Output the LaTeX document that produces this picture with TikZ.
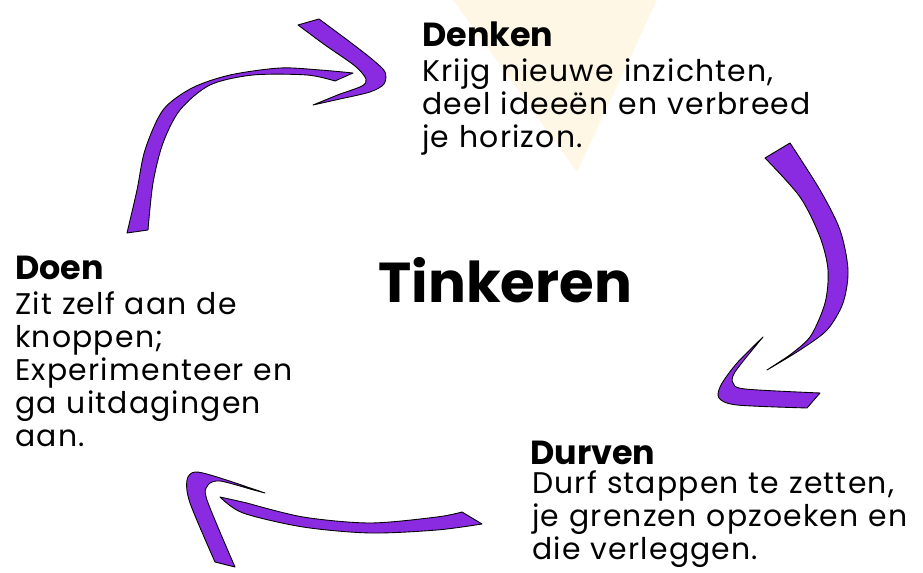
\documentclass[tikz,border=0pt]{standalone}
\usepackage{fontspec}
\setmainfont{Poppins}
\definecolor{brushpurple}{RGB}{138,43,226}
\definecolor{paleyellow}{RGB}{254,247,230}

\begin{document}
\begin{tikzpicture}[x=0.02cm, y=-0.02cm,
		brush/.style={fill=brushpurple, draw=black, line width=0.5pt, line join=round},
		head/.style={font=\fontsize{19}{24}\selectfont\bfseries, inner sep=0, anchor=base west},
		body/.style={font=\fontsize{17}{18.7}\selectfont\addfontfeatures{LetterSpace=4}, inner sep=0, anchor=base west, align=left}]
		\useasboundingbox (0,0) rectangle (923,573);
		\fill[paleyellow] (453,0) -- (657,0) -- (577,172) -- cycle;

		% arrow from Doen to Denken
		\draw[brush] (127,233) -- plot[smooth] coordinates {(127,233) (137,190) (145,150) (163,110) (192,88) (230,75) (280,68) (320,70) (353,73)}
			-- plot[smooth] coordinates {(335,81) (307,75) (253,75) (210,85) (180,110) (163,143) (153,183) (148,230)} -- cycle;
		\draw[brush] (298,25) -- plot[smooth] coordinates {(319,19) (350,42) (373,60) (385,72) (384,84) (370,92) (340,99) (313,105)}
			-- plot[smooth] coordinates {(340,94) (362,86) (366,79) (355,66) (325,45) (298,25)} -- cycle;

		% arrow from Denken to Durven
		\draw[brush] (765,158) -- plot[smooth] coordinates {(790,143) (820,190) (840,230) (848,270) (843,303) (827,330) (800,350) (767,370)}
			-- plot[smooth] coordinates {(787,357) (810,337) (825,303) (828,270) (820,237) (800,197) (765,158)} -- cycle;
		\draw[brush] (763,337) -- plot[smooth] coordinates {(763,337) (737,363) (721,385) (719,398) (737,405) (807,408)} -- (820,393)
			-- plot[smooth] coordinates {(820,393) (745,389) (733,383) (735,372) (758,343)} -- cycle;

		% arrow from Durven to Doen
		\draw[brush] (462,512) -- plot[smooth] coordinates {(482,524) (437,530) (370,533) (303,527) (243,513) (220,497)}
			-- plot[smooth] coordinates {(247,503) (303,517) (370,523) (437,517) (462,512)} -- cycle;
		\draw[brush] (265,493) -- plot[smooth] coordinates {(265,493) (217,477) (195,472) (187,480) (190,503) (215,562)} -- (235,567)
			-- plot[smooth] coordinates {(235,567) (207,500) (208,485) (220,481) (250,489)} -- cycle;

		\node[font=\fontsize{32}{40}\selectfont\bfseries, inner sep=0, anchor=base west] (tinkeren) at (378,303) {Tinkeren};

		\node[head] (denken) at (422,47) {Denken};
		\node[body, text width=9cm] (denkentext) at (422,82) {Krijg nieuwe inzichten,\\deel ideeën en verbreed\\je horizon.};

		\node[head] (doen) at (15,280) {Doen};
		\node[body, text width=5.9cm] (doentext) at (15,315) {Zit zelf aan de\\knoppen;\\Experimenteer en\\ga uitdagingen\\aan.};

		\node[head] (durven) at (530,465) {Durven};
		\node[body, text width=7.8cm] (durventext) at (532,494) {Durf stappen te zetten,\\je grenzen opzoeken en\\die verleggen.};
	\end{tikzpicture}
\end{document}
